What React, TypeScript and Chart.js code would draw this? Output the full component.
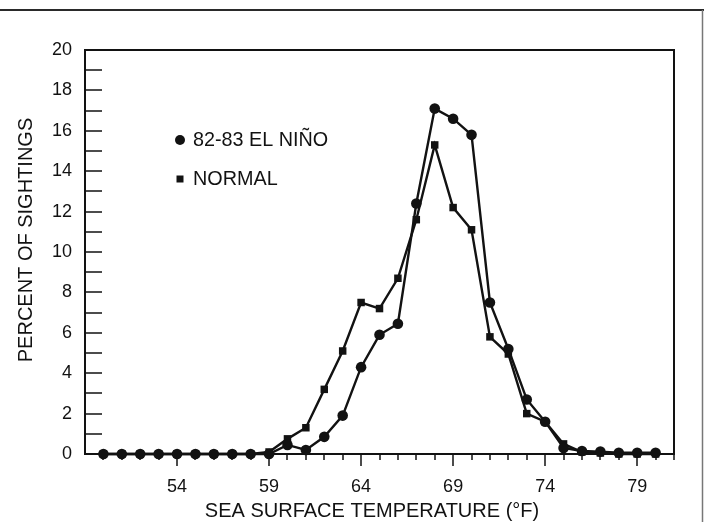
import { useEffect, useRef } from "react";
import { Chart, registerables } from "chart.js";

Chart.register(...registerables);

// Sea surface temperature (°F)
const TEMPS = [50, 51, 52, 53, 54, 55, 56, 57, 58, 59, 60, 61, 62, 63, 64, 65, 66, 67, 68, 69, 70, 71, 72, 73, 74, 75, 76, 77, 78, 79, 80];
// Percent of sightings
const EL_NINO = [0, 0, 0, 0, 0, 0, 0, 0, 0, 0, 0.45, 0.2, 0.85, 1.9, 4.3, 5.9, 6.45, 12.4, 17.1, 16.6, 15.8, 7.5, 5.2, 2.7, 1.6, 0.3, 0.15, 0.12, 0.06, 0.06, 0.06];
const NORMAL = [0, 0, 0, 0, 0, 0, 0, 0, 0, 0.1, 0.75, 1.3, 3.2, 5.1, 7.5, 7.2, 8.7, 11.6, 15.3, 12.2, 11.1, 5.8, 4.95, 2.0, 1.6, 0.5, 0.1, 0.05, 0, 0, 0];
const SERIES_NAMES = ["82-83 EL NIÑO", "NORMAL"];
const X_TICK_LABELS = [54, 59, 64, 69, 74, 79];
const Y_TICK_LABELS = [0, 2, 4, 6, 8, 10, 12, 14, 16, 18, 20];
const X_TITLE = "SEA SURFACE TEMPERATURE (°F)";
const Y_TITLE = "PERCENT OF SIGHTINGS";

const INK = "#121212";
const FONT = '"Liberation Sans", Arial, Helvetica, sans-serif';

const framePlugin = {
  id: "frame",
  beforeDatasetsDraw(chart: any) {
    const { ctx, chartArea: a, scales } = chart;
    const xs = scales.x;
    const ys = scales.y;
    ctx.save();
    ctx.strokeStyle = INK;
    ctx.lineWidth = 2;
    ctx.strokeRect(a.left, a.top, a.right - a.left, a.bottom - a.top);
    ctx.lineWidth = 1.5;
    ctx.beginPath();
    for (let v = ys.min + 1; v < ys.max; v += 1) {
      const py = Math.round(ys.getPixelForValue(v));
      ctx.moveTo(a.left, py);
      ctx.lineTo(a.left + 17, py);
    }
    for (let v = xs.min + 1; v <= xs.max; v += 1) {
      const px = Math.round(xs.getPixelForValue(v));
      const len = X_TICK_LABELS.includes(v) ? 12 : 6;
      ctx.moveTo(px, a.bottom);
      ctx.lineTo(px, a.bottom + len);
    }
    ctx.stroke();
    ctx.restore();
  },
  afterDraw(chart: any) {
    const { ctx, width, height } = chart;
    ctx.save();
    // outer page frame
    ctx.strokeStyle = "#2a2a2a";
    ctx.lineWidth = 2;
    ctx.beginPath();
    ctx.moveTo(0, 10);
    ctx.lineTo(width, 10);
    ctx.stroke();
    ctx.strokeStyle = "#777";
    ctx.lineWidth = 1.5;
    ctx.beginPath();
    ctx.moveTo(width - 1.5, 10);
    ctx.lineTo(width - 1.5, height);
    ctx.stroke();

    // axis titles
    ctx.fillStyle = INK;
    ctx.textAlign = "center";
    ctx.textBaseline = "middle";
    ctx.font = `20px ${FONT}`;
    ctx.fillText(X_TITLE, 372, 511);
    ctx.save();
    ctx.translate(26, 240);
    ctx.rotate(-Math.PI / 2);
    ctx.font = `20px ${FONT}`;
    ctx.fillText(Y_TITLE, 0, 0);
    ctx.restore();

    // legend
    const rows = [140, 179];
    ctx.textAlign = "left";
    ctx.font = `19.8px ${FONT}`;
    chart.data.datasets.forEach((ds: any, i: number) => {
      const y = rows[i];
      ctx.fillStyle = INK;
      ctx.beginPath();
      if (ds.pointStyle === "rect") {
        ctx.rect(176.5, y - 3.5, 7, 7);
      } else {
        ctx.arc(180, y, 5, 0, Math.PI * 2);
      }
      ctx.fill();
      ctx.fillText(ds.label, 193, y + 1);
    });
    ctx.restore();
  },
};

export default function App() {
  const ref = useRef<HTMLCanvasElement | null>(null);
  useEffect(() => {
    if (!ref.current) return;
    const chart = new Chart(ref.current, {
      type: "line",
      data: {
        datasets: [
          {
            label: SERIES_NAMES[0],
            data: TEMPS.map((t, i) => ({ x: t, y: EL_NINO[i] })),
            borderColor: INK,
            backgroundColor: INK,
            borderWidth: 2.4,
            pointStyle: "circle",
            pointRadius: 5.3,
            pointBorderWidth: 0,
            tension: 0,
            clip: false,
          },
          {
            label: SERIES_NAMES[1],
            data: TEMPS.map((t, i) => ({ x: t, y: NORMAL[i] })),
            borderColor: INK,
            backgroundColor: INK,
            borderWidth: 2.4,
            pointStyle: "rect",
            pointRadius: 5.3,
            pointBorderWidth: 0,
            tension: 0,
            clip: false,
          },
        ],
      },
      options: {
        animation: false,
        responsive: false,
        events: [],
        layout: { padding: { top: 50, right: 30, left: 0, bottom: 0 } },
        plugins: { legend: { display: false }, tooltip: { enabled: false } },
        scales: {
          x: {
            type: "linear",
            min: 49,
            max: 81,
            grid: { display: false, drawTicks: false },
            border: { display: false },
            afterBuildTicks: (scale: any) => {
              scale.ticks = X_TICK_LABELS.map((v) => ({ value: v }));
            },
            afterFit: (scale: any) => {
              scale.height = 68;
            },
            ticks: {
              autoSkip: false,
              maxRotation: 0,
              padding: 22,
              color: INK,
              font: { family: FONT, size: 18 },
              callback: (v: any) => String(v),
            },
          },
          y: {
            type: "linear",
            min: 0,
            max: 20,
            grid: { display: false, drawTicks: false },
            border: { display: false },
            afterBuildTicks: (scale: any) => {
              scale.ticks = Y_TICK_LABELS.map((v) => ({ value: v }));
            },
            afterFit: (scale: any) => {
              scale.width = 85;
            },
            ticks: {
              padding: 13,
              color: INK,
              font: { family: FONT, size: 18 },
              callback: (v: any) => String(v),
            },
          },
        },
      },
      plugins: [framePlugin],
    });
    return () => chart.destroy();
  }, []);
  return (
    <div style={{ position: "absolute", left: 0, top: 0, width: 704, height: 522, background: "#fff" }}>
      <canvas ref={ref} width={704} height={522} style={{ display: "block" }} />
    </div>
  );
}
